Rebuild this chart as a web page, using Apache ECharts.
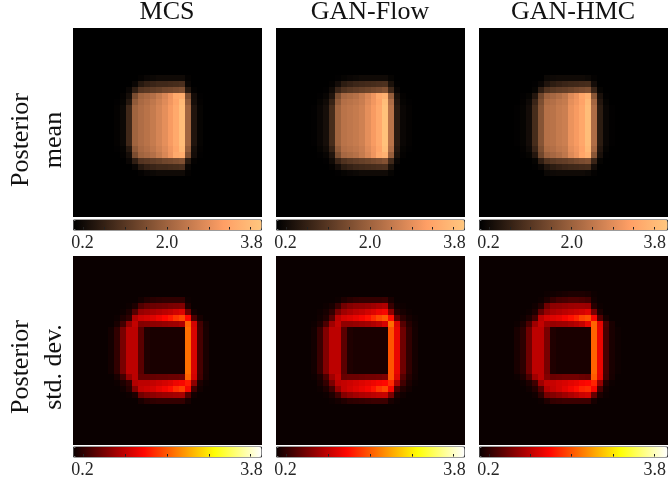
<!DOCTYPE html>
<html><head><meta charset="utf-8">
<style>html,body{margin:0;padding:0;background:#fff}#c{width:669px;height:485px}</style>
<script src="https://cdn.jsdelivr.net/npm/echarts@6/dist/echarts.min.js"></script>
</head><body><div id="c"></div>
<script>
// Rows list values from grid column 6 on; every cell not listed sits at baseValue.
const gridSize = 32, firstCol = 6, baseValue = 0.2;
const columnTitles = ['MCS', 'GAN-Flow', 'GAN-HMC'];
const rowTitles = [['Posterior', 'mean'], ['Posterior', 'std. dev.']];
const meanTicks = [0.4, 0.8, 1.2, 1.6, 2.0, 2.4, 2.8, 3.2, 3.6];
const stdTicks = [0.4, 1.2, 2.0, 2.8, 3.6];
const meanLabels = [0.2, 2.0, 3.8];
const stdLabels = [0.2, 3.8];

const mM = [.2,.24,.34,.92,2.0,2.18,2.29,2.43,2.61,2.79,3.0,3.26,3.62,2.0,.56,.27];
const mE = [.2,.22,.27,.63,1.82,2.11,2.22,2.36,2.54,2.72,2.93,3.19,3.55,1.82,.45,.24];
const mB = [.2,.2,.24,.45,1.57,2.0,2.11,2.22,2.43,2.65,2.9,3.26,3.33,1.57,.42,.22];
const mC = [.2,.2,.2,.31,.74,1.14,1.21,1.28,1.35,1.46,1.5,1.57,1.64,.63,.24];
const mD = [.2,.2,.2,.2,.31,.63,.78,.85,.92,.92,.96,.99,1.03,.31];
const mF = [.2,.2,.2,.2,.2,.24,.31,.34,.38,.38,.38,.38,.38,.24];
const mcsMean = {first: 8, rows: [mF,mD,mC,mB,mE,mM,mM,mM,mM,mM,mM,mM,mE,mB,mC,mD,mF]};

const fM = [.22,.31,.45,.99,2.0,2.29,2.36,2.43,2.54,2.79,3.0,3.26,3.69,2.29,.67,.31,.24];
const fE = [.2,.27,.38,.81,1.82,2.22,2.29,2.36,2.47,2.72,2.93,3.19,3.62,2.18,.6,.27,.22];
const fB = [.2,.22,.29,.56,1.6,2.07,2.15,2.25,2.43,2.65,2.9,3.26,3.4,1.9,.5,.24];
const fC = [.2,.2,.22,.38,.85,1.1,1.2,1.28,1.35,1.42,1.5,1.57,1.68,.92,.31];
const fD = [.2,.2,.2,.24,.42,.7,.8,.88,.92,.96,.99,1.03,1.06,.5,.22];
const fF = [.2,.2,.2,.2,.22,.27,.31,.34,.38,.38,.38,.38,.38,.27];
const flowMean = {first: 8, rows: [fF,fD,fC,fB,fE,fM,fM,fM,fM,fM,fM,fM,fE,fB,fC,fD,fF]};

const hM = [.22,.27,.42,.99,1.71,2.25,2.29,2.43,2.5,2.86,3.0,3.22,3.62,2.18,.7,.31,.22];
const hE = [.2,.24,.36,.85,1.6,2.15,2.22,2.36,2.43,2.79,2.93,3.15,3.55,2.05,.6,.27];
const hB = [.2,.22,.27,.6,1.46,1.96,2.07,2.2,2.36,2.7,2.88,3.2,3.4,1.75,.49,.22];
const hC = [.2,.2,.2,.27,.74,1.1,1.2,1.28,1.32,1.4,1.5,1.57,1.64,.85,.27];
const hD = [.2,.2,.2,.22,.31,.56,.7,.78,.85,.9,.92,.96,.99,.42];
const hF = [.2,.2,.2,.2,.2,.34,.36,.38,.38,.38,.38,.38,.34,.24];
const hmcMean = {first: 8, rows: [hF,hD,hC,hB,hE,hM,hM,hM,hM,hM,hM,hM,hE,hB,hC,hD,hF]};

const sI = [.25,.41,.79,1.16,1.16,.63,.31,.28,.28,.28,.28,.28,.28,2.11,1.33,.52,.28];
const mcsStd = {first: 7, rows: [
 [.2,.2,.2,.2,.2,.25,.32,.36,.38,.4,.4,.4,.4,.22],
 [.2,.2,.2,.22,.3,.58,.68,.72,.74,.76,.8,.82,.84,.32],
 [.2,.2,.22,.3,.6,.95,1.0,1.05,1.1,1.15,1.2,1.28,1.35,.75,.25],
 [.2,.22,.3,.4,1.1,1.25,1.3,1.35,1.45,1.55,1.65,1.8,1.9,1.55,.55,.27],
 [.2,.28,.5,.95,1.2,.85,.87,.9,.92,.95,.98,1.0,1.06,2.05,1.3,.5,.27],
 sI,sI,sI,sI,sI,sI,sI,sI,
 [.2,.28,.5,.95,1.15,.68,.68,.68,.7,.7,.72,.72,.74,2.05,1.3,.5,.27],
 [.2,.22,.3,.42,1.1,1.16,1.16,1.2,1.25,1.3,1.35,1.45,1.51,1.65,.9,.3,.22],
 [.2,.2,.24,.35,.85,1.2,1.25,1.3,1.4,1.48,1.58,1.75,1.85,1.5,.5,.25],
 [.2,.2,.2,.22,.3,.75,.85,.9,.95,.98,1.0,1.03,1.05,.6,.25],
 [.2,.2,.2,.2,.2,.28,.36,.4,.42,.42,.42,.42,.42,.28]]};

const tI = [.25,.45,.84,1.16,1.16,.63,.31,.28,.28,.28,.28,.28,.28,1.96,1.43,.74,.41,.26];
const flowStd = {first: 7, rows: [
 [.2,.2,.2,.2,.22,.3,.36,.4,.42,.42,.42,.42,.44,.28],
 [.2,.2,.22,.27,.45,.75,.85,.9,.92,.95,1.0,1.05,1.1,.45,.24,.22],
 [.2,.22,.27,.4,.8,1.0,1.08,1.15,1.2,1.28,1.35,1.45,1.51,.9,.35,.27,.22],
 [.2,.24,.32,.6,1.15,1.3,1.35,1.42,1.5,1.6,1.75,1.9,2.0,1.58,.65,.38,.27,.22],
 [.22,.3,.55,1.0,1.2,.92,.92,.95,.98,1.02,1.08,1.15,1.3,2.1,1.35,.6,.35,.25],
 tI,tI,tI,tI,tI,tI,tI,tI,
 [.22,.3,.55,1.0,1.2,.7,.72,.72,.74,.76,.76,.78,.82,1.96,1.35,.6,.35,.25],
 [.2,.27,.42,.8,1.15,1.2,1.25,1.3,1.35,1.4,1.45,1.51,1.55,1.75,1.05,.5,.3,.22],
 [.2,.22,.3,.5,.95,1.2,1.28,1.35,1.42,1.5,1.62,1.8,1.9,1.5,.55,.33,.25],
 [.2,.2,.22,.3,.5,.85,.95,1.02,1.08,1.12,1.16,1.2,1.22,.8,.3,.24],
 [.2,.2,.2,.22,.26,.32,.38,.4,.42,.44,.46,.46,.46,.28,.22]]};

const uI = [.28,.38,.74,1.16,1.16,.79,.32,.28,.28,.28,.28,.28,.28,2.05,1.43,.52,.28,.22];
const hmcStd = {first: 6, rows: [
 [.2,.2,.2,.2,.2,.22,.24,.26,.28,.3,.3,.3,.28,.22],
 [.2,.2,.2,.2,.22,.3,.42,.5,.52,.56,.56,.54,.5,.25],
 [.2,.2,.2,.24,.34,.75,.9,.92,.95,.98,1.0,1.0,.98,.35,.22],
 [.2,.2,.22,.3,.68,.95,1.05,1.1,1.15,1.2,1.25,1.3,1.38,.8,.3],
 [.2,.22,.3,.5,1.15,1.3,1.35,1.4,1.5,1.6,1.7,1.88,1.95,1.5,.6,.27],
 [.22,.3,.55,1.0,1.2,1.0,.95,.98,1.0,1.05,1.12,1.2,1.42,2.05,1.4,.55,.28],
 uI,uI,uI,uI,uI,uI,uI,uI,
 [.22,.3,.55,1.0,1.16,.85,.72,.74,.76,.76,.76,.72,.7,2.0,1.4,.5,.27],
 [.2,.22,.3,.48,1.0,1.2,1.22,1.28,1.32,1.38,1.42,1.51,1.55,1.7,.95,.32,.22],
 [.2,.2,.24,.34,.6,1.1,1.2,1.28,1.38,1.48,1.58,1.7,1.75,1.5,.55,.25],
 [.2,.2,.2,.24,.4,.78,.85,.92,1.0,1.08,1.15,1.25,1.3,.7,.3,.22],
 [.2,.2,.2,.2,.22,.32,.42,.44,.46,.46,.46,.46,.46,.27]]};

const panels = [[mcsMean, flowMean, hmcMean], [mcsStd, flowStd, hmcStd]];
const copperStops = ['#000000','#402819','#805032','#bf774c','#ff9f65','#ffc77f'];
const hotStops = ['#0a0000','#5e0000','#b20000','#ff0700','#ff5a00','#ffae00','#ffff04','#ffff82','#ffffff'];

const serif = '"Liberation Serif", serif';
const lefts = [73, 276, 479], tops = [28, 256], barTops = [219.5, 446.5], size = 189;
const cats = Array.from({length: gridSize}, (_, i) => i);
const cells = p => {
  const out = [];
  for (let y = 0; y < gridSize; y++) for (let x = 0; x < gridSize; x++) {
    const r = p.rows[y - p.first];
    const v = r && r[x - firstCol];
    out.push([x, y, v === undefined ? baseValue : v]);
  }
  return out;
};
// Heatmap cell: takes its place from the axes and its colour from the visualMap, snapped to whole pixels.
const drawCell = (params, api) => {
  const c = api.coord([api.value(0), api.value(1)]);
  const s = api.size([1, 1]);
  const x0 = Math.round(c[0] - s[0] / 2), x1 = Math.round(c[0] + s[0] / 2);
  const y0 = Math.round(c[1] - s[1] / 2), y1 = Math.round(c[1] + s[1] / 2);
  return {type: 'rect', shape: {x: x0, y: y0, width: x1 - x0, height: y1 - y0},
    style: {fill: api.visual('color')}};
};

const grid = [], xAxis = [], yAxis = [], series = [], visualMap = [];
const hidden = {show: false};
panels.forEach((rowPanels, r) => rowPanels.forEach((p, c) => {
  const i = series.length;
  grid.push({left: lefts[c], top: tops[r], width: size, height: size});
  xAxis.push({type: 'category', gridIndex: i, data: cats, show: false});
  yAxis.push({type: 'category', gridIndex: i, data: cats, inverse: true, show: false});
  series.push({type: 'custom', xAxisIndex: i, yAxisIndex: i, data: cells(p), renderItem: drawCell,
    encode: {x: 0, y: 1}, animation: false, progressive: 0, silent: true});
  visualMap.push({type: 'continuous', seriesIndex: i, dimension: 2, min: 0.2, max: 3.8, calculable: false,
    orient: 'horizontal', left: lefts[c], top: barTops[r], itemWidth: 10, itemHeight: size - 1,
    padding: 0, text: null, showLabel: false, hoverLink: false, borderColor: '#3a3a3a', borderWidth: 1,
    inRange: {color: r === 0 ? copperStops : hotStops}});
}));
// Colour-bar axes: ticks and labels on their own grids, overlaying the visualMap bars.
const labelStyle = {fontFamily: serif, fontSize: 18, color: '#262626'};
panels.forEach((rowPanels, r) => rowPanels.forEach((p, c) => {
  const i = grid.length;
  grid.push({left: lefts[c], top: barTops[r], width: size - 1, height: 10});
  xAxis.push({type: 'value', gridIndex: i, min: 0.2, max: 3.8, z: 20, position: 'bottom', splitLine: hidden,
    axisLine: hidden,
    axisTick: {inside: true, length: 2.5, lineStyle: {color: '#222', width: 1},
      customValues: r === 0 ? meanTicks : stdTicks},
    axisLabel: {customValues: r === 0 ? meanLabels : stdLabels, margin: 5, hideOverlap: false, ...labelStyle,
      formatter: v => (v < 1 ? '{l|' : v > 3 ? '{h|' : '{m|') + v.toFixed(1) + '}',
      rich: {l: {...labelStyle, padding: [0, 0, 0, 19]}, m: {...labelStyle}, h: {...labelStyle, padding: [0, 19, 0, 0]}}}});
  yAxis.push({type: 'value', gridIndex: i, show: false});
}));

const graphic = [];
columnTitles.forEach((t, c) => graphic.push({type: 'text', x: lefts[c] + 94, y: 12, silent: true,
  style: {text: t, fill: '#111', font: '26px ' + serif, textAlign: 'center', textVerticalAlign: 'middle'}}));
rowTitles.forEach((pair, r) => pair.forEach((t, k) => graphic.push({type: 'text',
  x: k === 0 ? 21 : 54, y: r === 0 ? 140 : 367, rotation: Math.PI / 2, silent: true,
  style: {text: t, fill: '#111', font: '26px ' + serif, textAlign: 'center', textVerticalAlign: 'middle'}})));

const chart = echarts.init(document.getElementById('c'), null, {renderer: 'canvas'});
chart.setOption({animation: false, backgroundColor: '#fff', tooltip: {show: false},
  grid, xAxis, yAxis, visualMap, series, graphic});
</script></body></html>
